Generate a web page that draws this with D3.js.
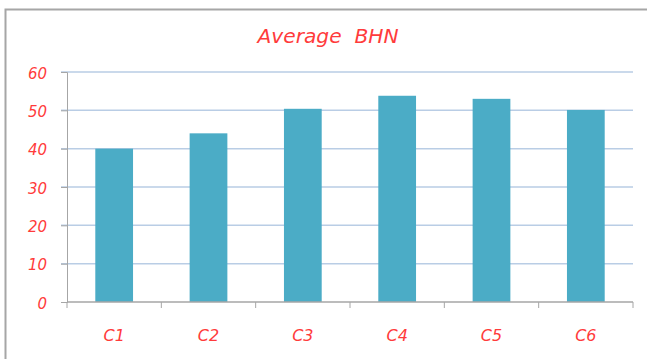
<!DOCTYPE html>
<html><head><meta charset="utf-8">
<script src="https://cdn.jsdelivr.net/npm/d3@7"></script>
<style>body{margin:0;background:#fff;}svg{display:block;}</style>
</head><body>
<script>
const categories = ["C1","C2","C3","C4","C5","C6"];
const values = [40.0, 44.0, 50.4, 53.8, 53.0, 50.1];
const yTicks = [0,10,20,30,40,50,60];
const title = "Average  BHN";

const W = 647, H = 359;
const FONT = "'DejaVu Sans', sans-serif";
const svg = d3.select("body").append("svg").attr("width", W).attr("height", H);
const m = {left: 67, right: 14, top: 72, bottom: 57};

// frame border (top and left)
svg.append("path").attr("d", `M5.5,${H} V9.5 H${W}`).attr("fill","none")
  .attr("stroke","#a6a6a6").attr("stroke-width",2);

const x = d3.scaleBand().domain(categories).range([m.left, W - m.right]).paddingInner(0.6).paddingOuter(0.3);
const y = d3.scaleLinear().domain([0,60]).range([H - m.bottom, m.top]);

// gridlines
svg.append("g").selectAll("line").data(yTicks.filter(d=>d>0)).join("line")
  .attr("x1", m.left - 6).attr("x2", W - m.right)
  .attr("y1", d=>y(d)).attr("y2", d=>y(d))
  .attr("stroke","#b9cde5").attr("stroke-width",1.5);

// y axis
const ya = svg.append("g").attr("transform",`translate(${m.left},0)`)
  .call(d3.axisLeft(y).tickValues(yTicks).tickSize(6).tickPadding(14));
ya.select(".domain").attr("stroke","#a6a6a6");
ya.selectAll(".tick line").attr("stroke","#a6a6a6");
ya.selectAll("text").attr("fill","#ff3b3b").attr("dy","0.4em")
  .style("font",`oblique 15px ${FONT}`);

// bars
svg.append("g").selectAll("rect").data(values).join("rect")
  .attr("x",(d,i)=>x(categories[i])).attr("width",x.bandwidth())
  .attr("y",d=>y(d)).attr("height",d=>y(0)-y(d))
  .attr("fill","#4bacc6");

// x axis
const xb = d3.scaleLinear().domain([0,categories.length]).range([m.left, W - m.right]);
const xa = svg.append("g").attr("transform",`translate(0,${y(0)})`);
xa.append("line").attr("x1",m.left).attr("x2",W-m.right).attr("stroke","#a6a6a6").attr("stroke-width",1.5);
xa.selectAll(".tk").data(d3.range(categories.length+1)).join("line").attr("class","tk")
  .attr("x1",d=>xb(d)).attr("x2",d=>xb(d)).attr("y1",0).attr("y2",6)
  .attr("stroke","#a6a6a6");
xa.selectAll("text").data(categories).join("text")
  .attr("x",d=>x(d)+x.bandwidth()/2).attr("y",39)
  .attr("text-anchor","middle").attr("fill","#ff3b3b")
  .style("font",`oblique 16px ${FONT}`).text(d=>d);

// title
svg.append("text").attr("x",328).attr("y",43).attr("text-anchor","middle")
  .attr("fill","#ff3b3b").style("font",`oblique 19px ${FONT}`)
  .attr("textLength",141).attr("lengthAdjust","spacingAndGlyphs")
  .style("white-space","pre").attr("xml:space","preserve").text(title);
</script>
</body></html>
